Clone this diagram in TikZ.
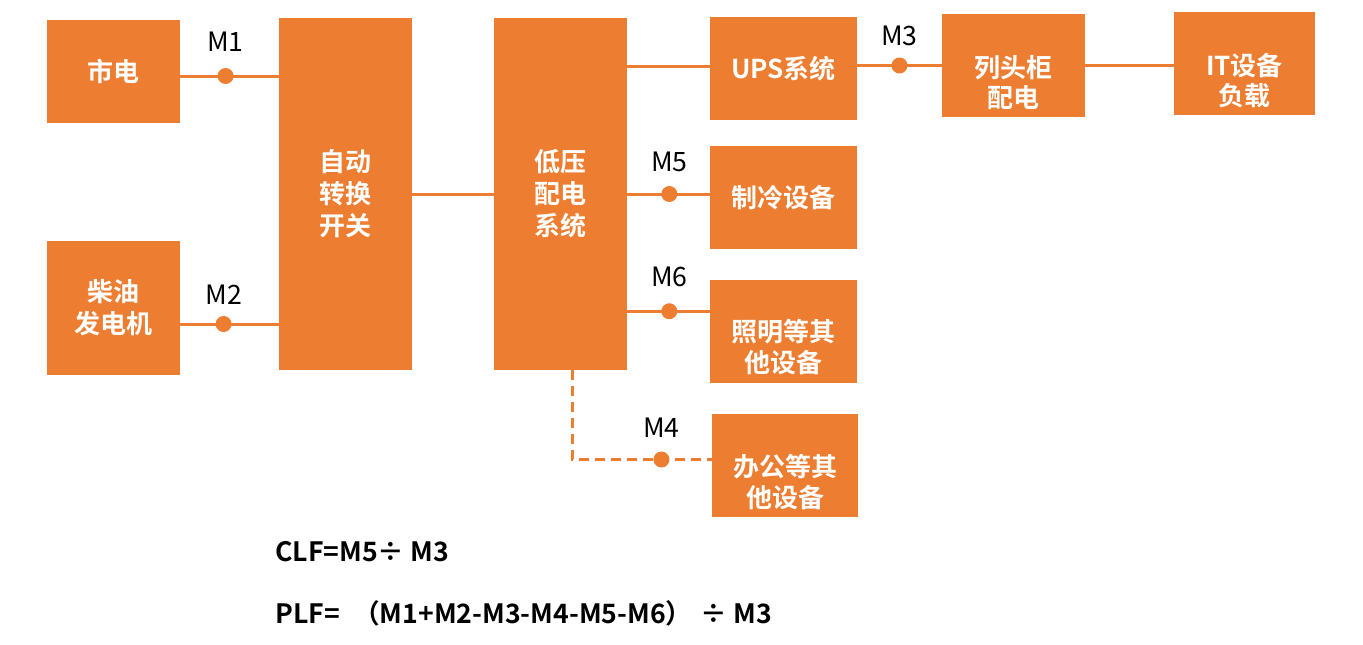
\documentclass[tikz,border=0pt]{standalone}
\usepackage{fontspec}
\setmainfont{Noto Sans CJK SC}[BoldFont={Noto Sans CJK SC Bold}]
\usetikzlibrary{positioning, calc, arrows.meta}
\definecolor{boxorange}{HTML}{ED7D31}

\begin{document}
\begin{tikzpicture}[x=0.75pt, y=-0.75pt,
    box/.style={fill=boxorange, text=white, inner sep=0pt, align=center, font=\fontsize{19.5}{24}\selectfont\bfseries},
    boxtext/.style={text=white, inner sep=0pt, align=center, font=\fontsize{19.5}{23}\selectfont\bfseries},
    meter/.style={circle, fill=boxorange, inner sep=0pt, minimum size=12pt},
    tag/.style={font=\fontsize{20}{22}\selectfont},
    wire/.style={boxorange, line width=2.25pt},
    formula/.style={anchor=west, inner sep=0pt, font=\fontsize{20}{22}\selectfont\bfseries}]
    \useasboundingbox (0,0) rectangle (1363,644);

    \node [box, minimum width=99.75pt, minimum height=77.25pt] (mains) at (113.5,71.5) {市电};
    \node [box, minimum width=99.75pt, minimum height=100.5pt] (diesel) at (113.5,308) {柴油\\发电机};
    \node [box, minimum width=99.75pt, minimum height=264pt] (ats) at (345.5,194) {自动\\转换\\开关};
    \node [box, minimum width=99.75pt, minimum height=264pt] (lowvolt) at (560.5,194) {低压\\配电\\系统};
    \node [box, minimum width=110.25pt, minimum height=77.25pt] (ups) at (783.5,68.5) {UPS系统};
    \node [box, minimum width=107.25pt, minimum height=77.25pt] (rackpdu) at (1013.5,65.5) {};
    \node [boxtext] (rackpdutext) at ($(rackpdu)+(0,17)$) {列头柜\\配电};
    \node [box, minimum width=105.75pt, minimum height=77.25pt] (itload) at (1244.5,63.5) {};
    \node [boxtext] (itloadtext) at ($(itload)+(0,17)$) {IT设备\\负载};
    \node [box, minimum width=110.25pt, minimum height=77.25pt] (cooling) at (783.5,197.5) {制冷设备};
    \node [box, minimum width=110.25pt, minimum height=77.25pt] (lighting) at (783.5,331) {};
    \node [boxtext] (lightingtext) at ($(lighting)+(0,16)$) {照明等其\\他设备};
    \node [box, minimum width=109.5pt, minimum height=77.25pt] (office) at (785,465) {};
    \node [boxtext] (officetext) at ($(office)+(0,17)$) {办公等其\\他设备};

    % metered feeds
    \draw [wire] ($(mains.east)+(0,4.5)$) -- ($(mains.east -| ats.west)+(0,4.5)$) node [meter, pos=0.46] (mone) {};
    \node [tag, above=8pt of mone] (monelabel) {M1};
    \draw [wire] ($(diesel.east)+(0,16)$) -- ($(diesel.east -| ats.west)+(0,16)$) node [meter, pos=0.44] (mtwo) {};
    \node [tag, above=4pt of mtwo] (mtwolabel) {M2};
    \draw [wire] (ats.east) -- (lowvolt.west);
    \draw [wire] ($(ups.west)+(0,-2.5)$) -- ($(ups.west -| lowvolt.east)+(0,-2.5)$);
    \draw [wire] (rackpdu.west) -- (rackpdu.west -| ups.east) node [meter, pos=0.5] (mthree) {};
    \node [tag, above=4pt of mthree] (mthreelabel) {M3};
    \draw [wire] ($(cooling.west)+(0,-3.5)$) -- ($(cooling.west -| lowvolt.east)+(0,-3.5)$) node [meter, pos=0.49] (mfive) {};
    \node [tag, above=6pt of mfive] (mfivelabel) {M5};
    \draw [wire] ($(lighting.north west)+(0,32)$) -- ($(lighting.north west -| lowvolt.east)+(0,32)$) node [meter, pos=0.49] (msix) {};
    \node [tag, above=8pt of msix] (msixlabel) {M6};
    \draw [wire, dash pattern=on 7.5pt off 4.5pt] ($(lowvolt.south)+(11.5,0)$) |- ($(office.west)+(0,-5.5)$) node [meter, pos=0.82] (mfour) {};
    \node [tag, above=6pt of mfour] (mfourlabel) {M4};
    \draw [wire] (rackpdu.east) -- (rackpdu.east -| itload.west);

    \node [formula] (clf) at (275,552) {CLF=M5÷ M3};
    \node [formula] (plf) at (275,613) {PLF=\hspace{0.5em}（M1+M2-M3-M4-M5-M6）\hspace{0.3em}÷ M3};
\end{tikzpicture}
\end{document}
